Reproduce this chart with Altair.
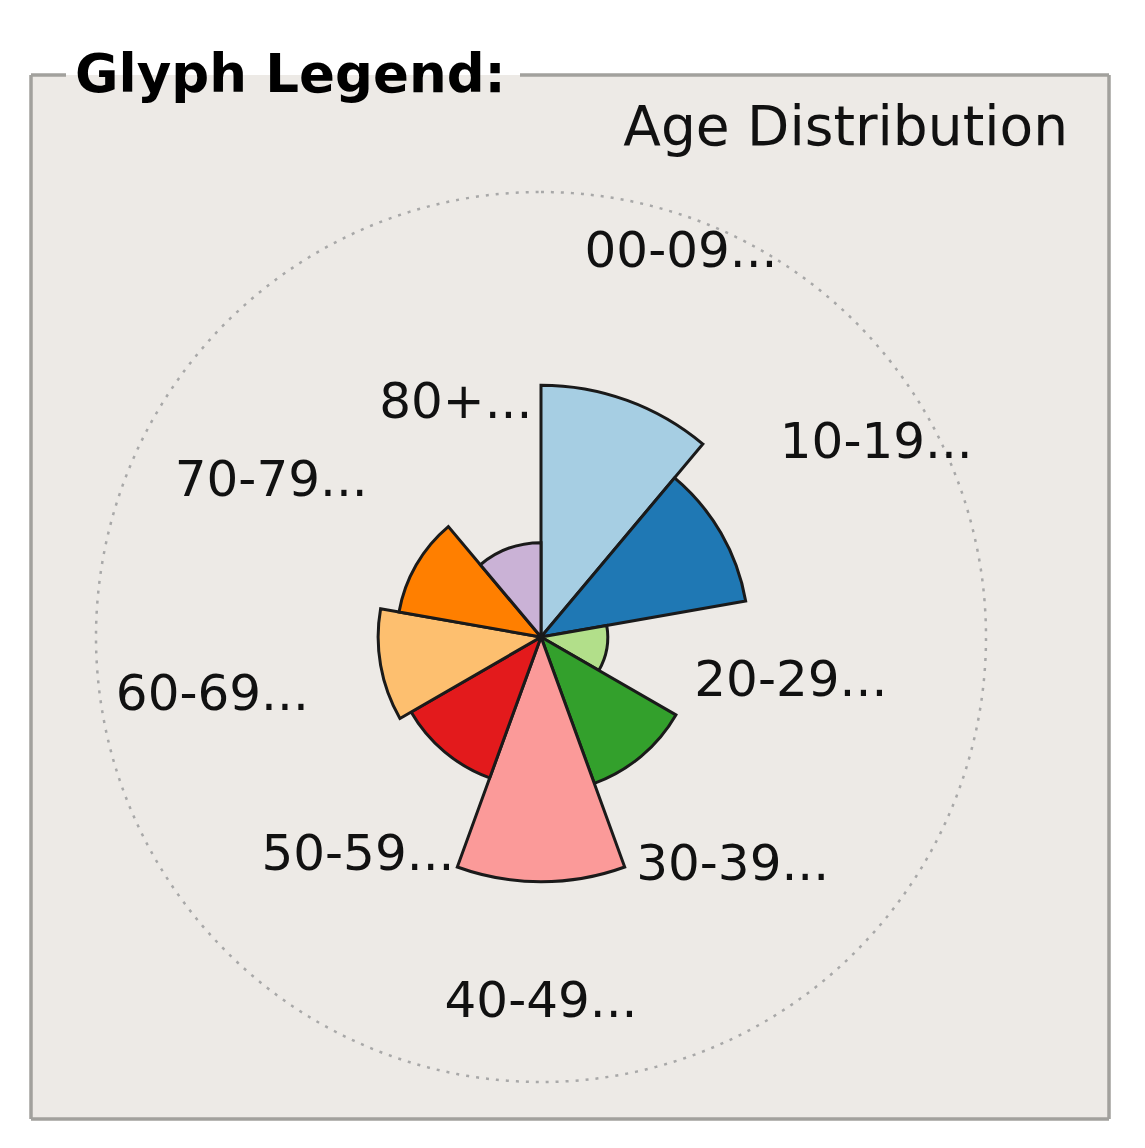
import math
import altair as alt
import pandas as pd

# ---- data ----
groups = ["00-09", "10-19", "20-29", "30-39", "40-49", "50-59", "60-69", "70-79", "80+"]
values = [56.6, 46.7, 15.0, 35.0, 55.0, 33.7, 36.6, 32.4, 21.2]   # wedge length, outer ring = 100
label_dist = [92.0, 87.0, 57.0, 67.0, 82.0, 64.0, 75.0, 70.0, 56.0]
colors = ["#a6cee3", "#1f78b4", "#b2df8a", "#33a02c", "#fb9a99",
          "#e31a1c", "#fdbf6f", "#ff7f00", "#cab2d6"]
ring_value = 100
title_text = "Glyph Legend:"
subtitle_text = "Age Distribution"

df = pd.DataFrame({
    "group": groups,
    "value": values,
    "label": [g + "..." for g in groups],
    "label_dist": label_dist,
    "share": [1] * len(groups),
    "idx": list(range(len(groups))),
})

W, H = 1129, 1132
CX, CY = 533, 629
R = 445
FONT = "DejaVu Sans"

rscale = alt.Scale(type="linear", domain=[0, 100], range=[0, R], zero=True)
tscale = alt.Scale(type="linear", domain=[0, len(groups)], range=[0, 2 * math.pi], zero=True)
one = pd.DataFrame({"r": [ring_value]})

# frame
frame_bg = alt.Chart(one).mark_rect(fill="#edeae6").encode(
    x=alt.value(23), x2=alt.value(1101), y=alt.value(67), y2=alt.value(1111))
border_col = "#a2a19d"
bw = 3.5
b_left = alt.Chart(one).mark_rule(color=border_col, strokeWidth=bw).encode(
    x=alt.value(23), y=alt.value(67), y2=alt.value(1111))
b_right = alt.Chart(one).mark_rule(color=border_col, strokeWidth=bw).encode(
    x=alt.value(1101), y=alt.value(67), y2=alt.value(1111))
b_bottom = alt.Chart(one).mark_rule(color=border_col, strokeWidth=bw).encode(
    x=alt.value(23), x2=alt.value(1101), y=alt.value(1111))
b_top1 = alt.Chart(one).mark_rule(color=border_col, strokeWidth=bw).encode(
    x=alt.value(23), x2=alt.value(58), y=alt.value(67))
b_top2 = alt.Chart(one).mark_rule(color=border_col, strokeWidth=bw).encode(
    x=alt.value(512), x2=alt.value(1101), y=alt.value(67))

title = alt.Chart(one).mark_text(
    text=title_text, font=FONT, fontSize=53, fontWeight="bold", align="left",
    baseline="alphabetic", color="#000000").encode(x=alt.value(67), y=alt.value(84))
subtitle = alt.Chart(one).mark_text(
    text=subtitle_text, font=FONT, fontSize=55, align="right",
    baseline="alphabetic", color="#111111").encode(x=alt.value(1060), y=alt.value(137))

ring = alt.Chart(one).mark_arc(
    theta=0, theta2=2 * math.pi, fillOpacity=0, stroke="#a8a8a8",
    strokeWidth=2.5, strokeDash=[3, 7]).encode(
    radius=alt.Radius("r:Q", scale=rscale), x=alt.value(CX), y=alt.value(CY))

base = alt.Chart(df).transform_window(
    end="sum(share)", sort=[alt.SortField("idx", order="ascending")]
).transform_calculate(
    start="datum.end - datum.share",
    mid="datum.end - datum.share / 2",
)

wedges = base.mark_arc(stroke="#1a1a1a", strokeWidth=3).encode(
    theta=alt.Theta("start:Q", scale=tscale),
    theta2="end:Q",
    radius=alt.Radius("value:Q", scale=rscale),
    color=alt.Color("group:N", scale=alt.Scale(domain=groups, range=colors), legend=None),
    x=alt.value(CX), y=alt.value(CY))

labels = base.mark_text(
    font=FONT, fontSize=50, color="#111111", align="center", baseline="middle").encode(
    theta=alt.Theta("mid:Q", scale=tscale),
    radius=alt.Radius("label_dist:Q", scale=rscale),
    text="label:N",
    x=alt.value(CX), y=alt.value(CY))

chart = alt.layer(frame_bg, ring, wedges, labels, b_left, b_right, b_bottom, b_top1, b_top2,
                  title, subtitle).properties(
    width=W, height=H, autosize=alt.AutoSizeParams(type="none"), padding=0,
    background="white").configure_view(stroke=None)

chart.save("out.html", embed_options={"renderer": "svg", "actions": False})
